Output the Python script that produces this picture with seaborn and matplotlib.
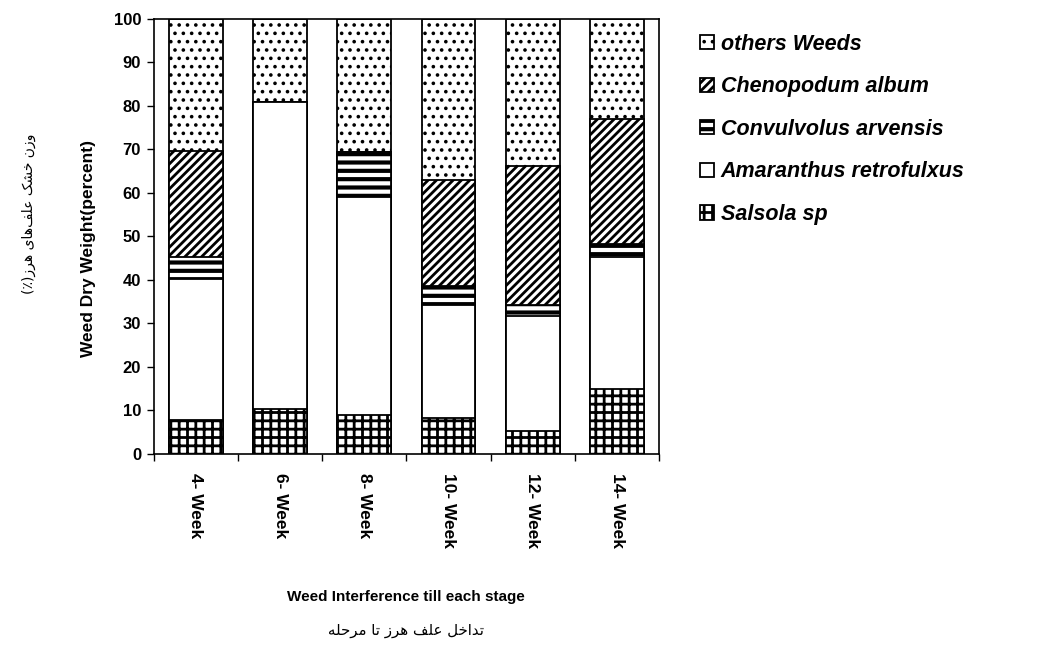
import matplotlib
matplotlib.use("Agg")
import matplotlib.pyplot as plt
import seaborn as sns
import pandas as pd
import numpy as np

weeks = ["4- Week", "6- Week", "8- Week", "10- Week", "12- Week", "14- Week"]
salsola = [7.7, 10.3, 8.9, 8.3, 5.2, 15.0]
amaranthus = [32.5, 70.5, 50.2, 26.0, 26.4, 30.3]
convulvolus = [5.1, 0.0, 10.3, 4.2, 2.7, 3.0]
chenopodium = [24.4, 0.0, 0.0, 24.5, 31.8, 28.6]
others = [30.3, 19.2, 30.6, 37.0, 33.9, 23.1]

species = ["Salsola sp", "Amaranthus retrofulxus", "Convulvolus arvensis",
           "Chenopodum album", "others Weeds"]
hatches = ["++", "", "--", "////", ".."]
hatch_lw = [2.0, 1.0, 3.0, 2.0, 1.4]
hatch_col = ["black", "black", "black", "#3a3a3a", "black"]

ylabel_fa = "وزن خشک علف\u200cهای هرز(٪)"
xlabel_fa = "تداخل علف هرز تا مرحله"

# minimal Arabic/Persian shaping (matplotlib has no bidi/shaping)
FORMS = {
    "ا": ("\uFE8D", "\uFE8E"), "د": ("\uFEA9", "\uFEAA"), "ر": ("\uFEAD", "\uFEAE"),
    "ز": ("\uFEAF", "\uFEB0"), "و": ("\uFEED", "\uFEEE"),
    "ت": ("\uFE95", "\uFE96", "\uFE97", "\uFE98"), "ح": ("\uFEA1", "\uFEA2", "\uFEA3", "\uFEA4"),
    "خ": ("\uFEA5", "\uFEA6", "\uFEA7", "\uFEA8"), "ش": ("\uFEB5", "\uFEB6", "\uFEB7", "\uFEB8"),
    "ع": ("\uFEC9", "\uFECA", "\uFECB", "\uFECC"), "ف": ("\uFED1", "\uFED2", "\uFED3", "\uFED4"),
    "ل": ("\uFEDD", "\uFEDE", "\uFEDF", "\uFEE0"), "م": ("\uFEE1", "\uFEE2", "\uFEE3", "\uFEE4"),
    "ن": ("\uFEE5", "\uFEE6", "\uFEE7", "\uFEE8"), "ه": ("\uFEE9", "\uFEEA", "\uFEEB", "\uFEEC"),
    "ک": ("\uFB8E", "\uFB8F", "\uFB90", "\uFB91"), "ی": ("\uFBFC", "\uFBFD", "\uFBFE", "\uFBFF"),
}


def shape(text):
    out = []
    for i, c in enumerate(text):
        if c not in FORMS:
            if c != "\u200c":
                out.append(c)
            continue
        prev = text[i - 1] if i > 0 else ""
        nxt = text[i + 1] if i + 1 < len(text) else ""
        jp = prev in FORMS and len(FORMS[prev]) == 4
        jn = nxt in FORMS and len(FORMS[c]) == 4
        f = FORMS[c]
        if jp and jn:
            out.append(f[3])
        elif jp:
            out.append(f[1])
        elif jn:
            out.append(f[2])
        else:
            out.append(f[0])
    mirror = {"(": ")", ")": "("}
    return "".join(mirror.get(c, c) for c in reversed(out))


def style_patch(p, i):
    if hasattr(p, "set_hatch_linewidth"):
        p.set_hatch_linewidth(hatch_lw[i])
    if hasattr(p, "set_hatchcolor"):
        p.set_hatchcolor(hatch_col[i])


sns.set_style("white")
plt.rcParams["font.family"] = ["Liberation Sans", "DejaVu Sans"]
plt.rcParams["hatch.linewidth"] = 1.8
for k in ["text.color", "axes.labelcolor", "xtick.color", "ytick.color"]:
    plt.rcParams[k] = "black"

values = [salsola, amaranthus, convulvolus, chenopodium, others]
cum = np.cumsum(np.array(values), axis=0)

fig = plt.figure(figsize=(10.38, 6.55), dpi=100)
ax = fig.add_axes([0.148, 0.307, 0.487, 0.664])

# draw cumulative totals from the top layer down so each covers the lower part
for i in range(len(species) - 1, -1, -1):
    df = pd.DataFrame({"week": weeks, "value": cum[i]})
    n0 = len(ax.patches)
    sns.barplot(data=df, x="week", y="value", color="white", width=0.64,
                edgecolor="black", linewidth=1.3, hatch=hatches[i],
                label=species[i], ax=ax)
    for p in ax.patches[n0:]:
        style_patch(p, i)

ax.set_ylim(0, 100)
ax.set_xlim(-0.5, 5.5)
ax.set_yticks(range(0, 101, 10))
ax.tick_params(axis="y", direction="out", length=5, width=1, left=True,
               labelsize=12, pad=4)
for t in ax.get_yticklabels():
    t.set_fontweight("bold")
ax.set_xticks(range(len(weeks)))
ax.set_xticklabels(weeks, rotation=-90, fontsize=12.5, fontweight="bold",
                   va="top", ha="center")
ax.tick_params(axis="x", which="major", length=0, pad=14)
ax.set_xticks(np.arange(-0.5, 6.0, 1.0), minor=True)
ax.tick_params(axis="x", which="minor", direction="out", length=5, width=1,
               bottom=True)
for s in ax.spines.values():
    s.set_color("black")
    s.set_linewidth(1.2)
ax.set_xlabel("")
ax.set_ylabel("")

handles, labels = ax.get_legend_handles_labels()
leg = ax.legend(handles, labels, loc="upper left", bbox_to_anchor=(0.656, 0.978),
                bbox_transform=fig.transFigure, frameon=False, handlelength=0.65,
                handleheight=0.65, handletextpad=0.3, labelspacing=1.0,
                prop={"size": 15.5, "weight": "bold", "style": "italic"})
for j, h in enumerate(leg.legend_handles):
    style_patch(h, species.index(labels[j]))

fig.text(0.085, 0.62, "Weed Dry Weight(percent)", ha="center", va="center",
         rotation=90, fontsize=12.5, fontweight="bold")
fig.text(0.391, 0.089, "Weed Interference till each stage", ha="center",
         va="center", fontsize=11, fontweight="bold")
fig.text(0.391, 0.038, shape(xlabel_fa), ha="center", va="center",
         fontsize=10.8, family="DejaVu Sans")
fig.text(0.028, 0.673, shape(ylabel_fa), ha="center", va="center",
         rotation=90, fontsize=10, family="DejaVu Sans")

fig.savefig("out.png", dpi=100)
